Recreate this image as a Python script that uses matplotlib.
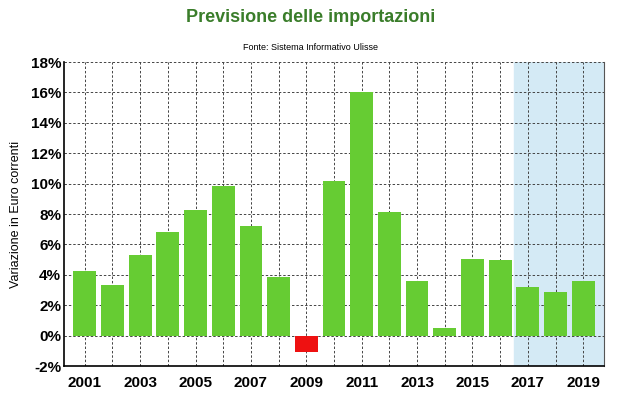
import matplotlib.pyplot as plt
import numpy as np

plt.rcParams['font.family'] = ['Liberation Sans', 'DejaVu Sans']

years = list(range(2001, 2020))
values = [4.28, 3.33, 5.28, 6.84, 8.27, 9.82, 7.2, 3.84, -1.07, 10.17,
          16.05, 8.11, 3.57, 0.5, 5.04, 5.0, 3.18, 2.89, 3.62]
forecast_start = 2016.5
yticks = list(range(-2, 19, 2))

colors = ['#ee1111' if v < 0 else '#66cc33' for v in values]

fig = plt.figure(figsize=(6.21, 4.03), dpi=100)
ax = fig.add_axes([64 / 621, 37 / 403, 540 / 621, 304 / 403])

ax.axvspan(forecast_start, 2019.75, color='#d4eaf5', zorder=0)
ax.bar(years, values, width=0.82, color=colors, zorder=3)

ax.set_xlim(2000.25, 2019.75)
ax.set_ylim(-2, 18)
ax.set_yticks(yticks)
ax.set_yticklabels(['%d%%' % t for t in yticks], fontweight='bold', fontsize=11)
ax.set_xticks(years)
ax.set_xticklabels([str(y) if y % 2 == 1 else '' for y in years],
                   fontweight='bold', fontsize=11)
ax.tick_params(length=0)
ax.tick_params(axis='x', pad=7)
ax.tick_params(axis='y', pad=2)

ax.grid(True, linestyle=(0, (2.5, 2)), color='#444444', linewidth=0.7, zorder=1)
ax.set_axisbelow(True)
ax.spines['top'].set_visible(False)
ax.spines['right'].set_color('#555555')
ax.spines['left'].set_linewidth(1.2)
ax.spines['bottom'].set_linewidth(1.2)

ax.set_ylabel('Variazione in Euro correnti', fontsize=9, labelpad=6)

fig.text(0.5, 1 - 18 / 403, 'Previsione delle importazioni', ha='center', va='center',
         fontsize=13, fontweight='bold', color='#3a7d2a')
fig.text(0.5, 1 - 47 / 403, 'Fonte: Sistema Informativo Ulisse', ha='center',
         va='center', fontsize=6.5)

fig.savefig('out.png', dpi=100)
